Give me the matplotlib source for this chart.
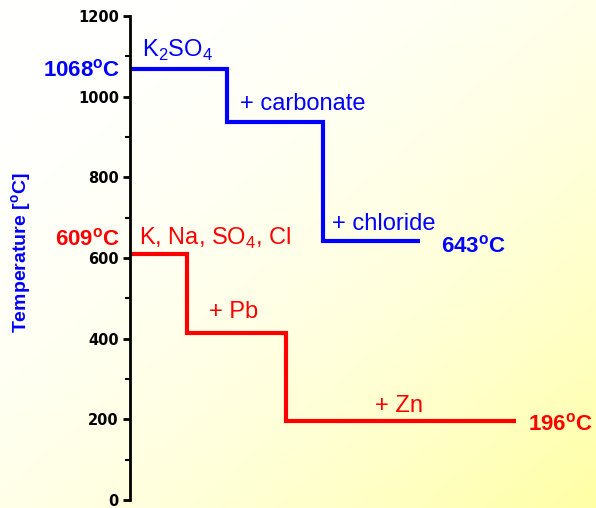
import numpy as np
import matplotlib.pyplot as plt

plt.rcParams['font.family'] = ['Liberation Sans', 'DejaVu Sans']
plt.rcParams['mathtext.fontset'] = 'custom'
plt.rcParams['mathtext.rm'] = 'Liberation Sans'
plt.rcParams['mathtext.bf'] = 'Liberation Sans:bold'

# step data: edges along x (arbitrary units), melting temperature per step
blue_edges = [0, 97, 193, 290]
blue_temps = [1068, 937, 643]
red_edges = [0, 57, 156, 386]
red_temps = [609, 414, 196]

blue = '#0000FF'
red = '#FF0000'

fig = plt.figure(figsize=(5.96, 5.08), dpi=100)

# background gradient, white top-left -> pale yellow bottom-right
bg = fig.add_axes([0, 0, 1, 1], zorder=-10)
xx, yy = np.meshgrid(np.linspace(0, 1, 300), np.linspace(0, 1, 256))
t = (xx + yy) / 2
img = np.ones((256, 300, 3))
img[..., 2] = 1 - (90 / 255) * t ** 2
bg.imshow(img, aspect='auto', extent=[0, 1, 0, 1], origin='upper')
bg.axis('off')

ax = fig.add_axes([130 / 596, 8 / 508, 466 / 596, 484 / 508])
ax.patch.set_alpha(0)

ax.stairs(blue_temps, blue_edges, baseline=None, color=blue, lw=3)
ax.stairs(red_temps, red_edges, baseline=None, color=red, lw=3)

ax.set_xlim(0, 466)
ax.set_ylim(0, 1200)
for s in ['top', 'right', 'bottom']:
    ax.spines[s].set_visible(False)
ax.spines['left'].set_linewidth(2)
ax.set_xticks([])
ax.set_yticks(range(0, 1201, 200))
ax.set_yticks(range(100, 1200, 200), minor=True)
ax.tick_params(axis='y', which='major', length=5, width=2, pad=3,
               labelsize=10.5)
ax.tick_params(axis='y', which='minor', length=3.5, width=1.5)
for lab in ax.get_yticklabels():
    lab.set_fontfamily('DejaVu Sans')
    lab.set_fontweight('heavy')

fig.text(22 / 596, 1 - 253 / 508, 'Temperature [$^{\\mathbf{o}}$C]', color=blue,
         fontsize=14, fontweight='bold', rotation=90, ha='center', va='center')

fs = 17
bfs = 16
ax.text(12, 1098, 'K$_2$SO$_4$', color=blue, fontsize=fs)
ax.text(-10, 1051, '1068$^{\\mathbf{o}}$C', color=blue, fontsize=bfs,
        fontweight='bold', ha='right', clip_on=False)
ax.text(110, 967, '+ carbonate', color=blue, fontsize=fs)
ax.text(202, 669, '+ chloride', color=blue, fontsize=fs)
ax.text(311, 615, '643$^{\\mathbf{o}}$C', color=blue, fontsize=bfs,
        fontweight='bold')

ax.text(-10, 632, '609$^{\\mathbf{o}}$C', color=red, fontsize=bfs,
        fontweight='bold', ha='right', clip_on=False)
ax.text(9, 632, 'K, Na, SO$_4$, Cl', color=red, fontsize=fs)
ax.text(79, 451, '+ Pb', color=red, fontsize=fs)
ax.text(245, 218, '+ Zn', color=red, fontsize=fs)
ax.text(398, 173, '196$^{\\mathbf{o}}$C', color=red, fontsize=bfs,
        fontweight='bold', clip_on=False)

plt.savefig('out.png', dpi=100)
